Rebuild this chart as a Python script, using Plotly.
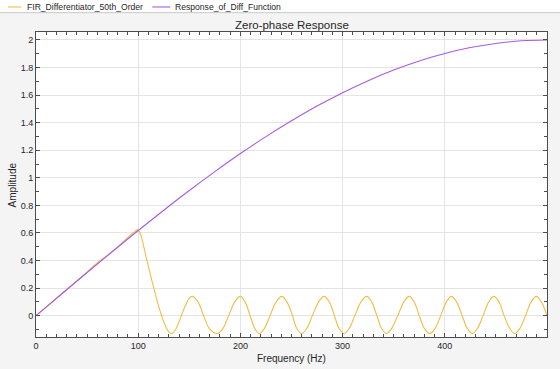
import plotly.graph_objects as go

# ---- data ----
fir_freq = [0, 10, 20, 30, 40, 50, 60, 70, 80, 90, 95, 99,
            101, 103, 105, 107, 110, 113, 116, 119, 122, 125, 128, 130, 132.3,
            134.5, 137, 140, 143, 146, 149, 151, 153.3,
            158.5, 164, 169.5, 177.5, 183, 188.5, 194.5, 199.7,
            204.5, 209.5, 214, 218.6, 223.5, 229, 235, 240.4,
            245.5, 251, 255, 260, 265, 270.5, 276.5, 281.8,
            287, 292, 296.5, 301.3, 306.5, 312, 318, 323.5,
            328.5, 333.5, 338, 343, 348, 354, 360, 365.1,
            370, 375, 380, 385.3, 390.5, 396, 401.5, 406.5,
            411.5, 417, 422, 427, 432, 437.5, 443, 447.9,
            453, 458, 463.5, 468.4, 473.5, 479, 484.5, 489.6,
            494.5, 500]
fir_amp = [0, 0.062, 0.125, 0.188, 0.25, 0.315, 0.385, 0.437, 0.497, 0.568, 0.60, 0.622,
           0.612, 0.575, 0.515, 0.45, 0.355, 0.265, 0.18, 0.095, 0.02, -0.045, -0.095, -0.118, -0.13,
           -0.122, -0.095, -0.045, 0.015, 0.07, 0.115, 0.133, 0.14,
           0.10, 0.0, -0.092, -0.13, -0.092, 0.0, 0.10, 0.14,
           0.10, 0.0, -0.092, -0.13, -0.092, 0.0, 0.10, 0.14,
           0.10, 0.0, -0.092, -0.13, -0.092, 0.0, 0.10, 0.14,
           0.10, 0.0, -0.092, -0.13, -0.092, 0.0, 0.10, 0.14,
           0.10, 0.0, -0.092, -0.13, -0.092, 0.0, 0.10, 0.14,
           0.10, 0.0, -0.092, -0.13, -0.092, 0.0, 0.10, 0.14,
           0.10, 0.0, -0.092, -0.13, -0.092, 0.0, 0.10, 0.14,
           0.10, 0.0, -0.092, -0.13, -0.092, 0.0, 0.10, 0.14,
           0.10, 0.0]

diff_freq = [0, 25, 50, 75, 100, 125, 150, 175, 200, 225, 250,
             275, 300, 325, 350, 375, 400, 425, 450, 475, 500]
diff_amp = [0, 0.157, 0.313, 0.467, 0.618, 0.765, 0.908, 1.045, 1.176, 1.299, 1.414,
            1.521, 1.618, 1.705, 1.782, 1.848, 1.902, 1.945, 1.975, 1.994, 2.0]

x_tick_vals = [0, 100, 200, 300, 400]
y_tick_vals = [0, 0.2, 0.4, 0.6, 0.8, 1, 1.2, 1.4, 1.6, 1.8, 2]
y_tick_text = ["0", "0.2", "0.4", "0.6", "0.8", "1", "1.2", "1.4", "1.6", "1.8", "2"]

series_names = ["FIR_Differentiator_50th_Order", "Response_of_Diff_Function"]
series_colors = ["#F0BE45", "#A65BE3"]

FONT = "Liberation Sans, Arial, Helvetica, sans-serif"
TXT = "#262626"

fig = go.Figure()
fig.add_trace(go.Scatter(x=fir_freq, y=fir_amp, mode="lines", name=series_names[0],
                         line=dict(color=series_colors[0], width=1.1, shape="spline", smoothing=1),
                         showlegend=False))
fig.add_trace(go.Scatter(x=diff_freq, y=diff_amp, mode="lines", name=series_names[1],
                         line=dict(color=series_colors[1], width=1.1, shape="spline", smoothing=1),
                         showlegend=False))

W, H = 560, 369
L, R, T, B = 35.6, 13, 32.3, 32
pw = W - L - R
ph = H - T - B

def px_to_paper_x(px):
    return (px - L) / pw

def px_to_paper_y(py):
    return 1 - (py - T) / ph

shapes = []
# legend strip
shapes.append(dict(type="rect", xref="paper", yref="paper",
                   x0=px_to_paper_x(-1), x1=px_to_paper_x(W + 1),
                   y0=px_to_paper_y(13), y1=px_to_paper_y(-1),
                   fillcolor="white", line=dict(width=0), layer="below"))
shapes.append(dict(type="line", xref="paper", yref="paper",
                   x0=px_to_paper_x(-1), x1=px_to_paper_x(W + 1),
                   y0=px_to_paper_y(13), y1=px_to_paper_y(13),
                   line=dict(color="#c8c8c8", width=1)))
annotations = []
legend_items = [(7.5, 21, 24.5), (152, 170, 173)]
for (lx0, lx1, tx), name, col in zip(legend_items, series_names, series_colors):
    shapes.append(dict(type="line", xref="paper", yref="paper",
                       x0=px_to_paper_x(lx0), x1=px_to_paper_x(lx1),
                       y0=px_to_paper_y(7.3), y1=px_to_paper_y(7.3),
                       line=dict(color=col, width=1.1)))
    annotations.append(dict(text=name, xref="paper", yref="paper",
                            x=px_to_paper_x(tx), y=px_to_paper_y(7.3),
                            xanchor="left", yanchor="middle", showarrow=False,
                            font=dict(family=FONT, size=8.6, color=TXT)))

annotations.append(dict(text="Zero-phase Response", xref="paper", yref="paper",
                        x=0.5, y=px_to_paper_y(25), xanchor="center", yanchor="middle",
                        showarrow=False, font=dict(family=FONT, size=11.5, color=TXT)))
annotations.append(dict(text="Frequency (Hz)", xref="paper", yref="paper",
                        x=0.5, y=px_to_paper_y(358), xanchor="center", yanchor="middle",
                        showarrow=False, font=dict(family=FONT, size=10, color=TXT)))
annotations.append(dict(text="Amplitude", xref="paper", yref="paper", textangle=-90,
                        x=px_to_paper_x(12.5), y=0.5, xanchor="center", yanchor="middle",
                        showarrow=False, font=dict(family=FONT, size=10, color=TXT)))

axis_common = dict(showline=True, linecolor="#4d4d4d", linewidth=1, mirror="ticks",
                   ticks="inside", ticklen=4, tickcolor="#4d4d4d", tickwidth=1,
                   showgrid=True, gridcolor="#e4e4e4", gridwidth=1, zeroline=False,
                   automargin=False,
                   tickfont=dict(family=FONT, size=9, color=TXT))

fig.update_layout(
    width=W, height=H,
    margin=dict(l=L, r=R, t=T, b=B, pad=0),
    paper_bgcolor="#f4f4f4", plot_bgcolor="white",
    shapes=shapes, annotations=annotations,
    showlegend=False,
    xaxis=dict(range=[0, 500], tickmode="array", tickvals=x_tick_vals,
               minor=dict(dtick=10, tick0=0, ticks="inside", ticklen=3, tickcolor="#4d4d4d", showgrid=False),
               **axis_common),
    yaxis=dict(range=[-0.155, 2.058], tickmode="array", tickvals=y_tick_vals, ticktext=y_tick_text,
               minor=dict(dtick=0.1, tick0=0, ticks="inside", ticklen=3, tickcolor="#4d4d4d", showgrid=False),
               **axis_common),
)

fig.write_html("out.html", config={"displayModeBar": False},
               post_script="document.body.style.margin='0';document.body.style.padding='0';"
                           "document.body.style.background='#f4f4f4';")
